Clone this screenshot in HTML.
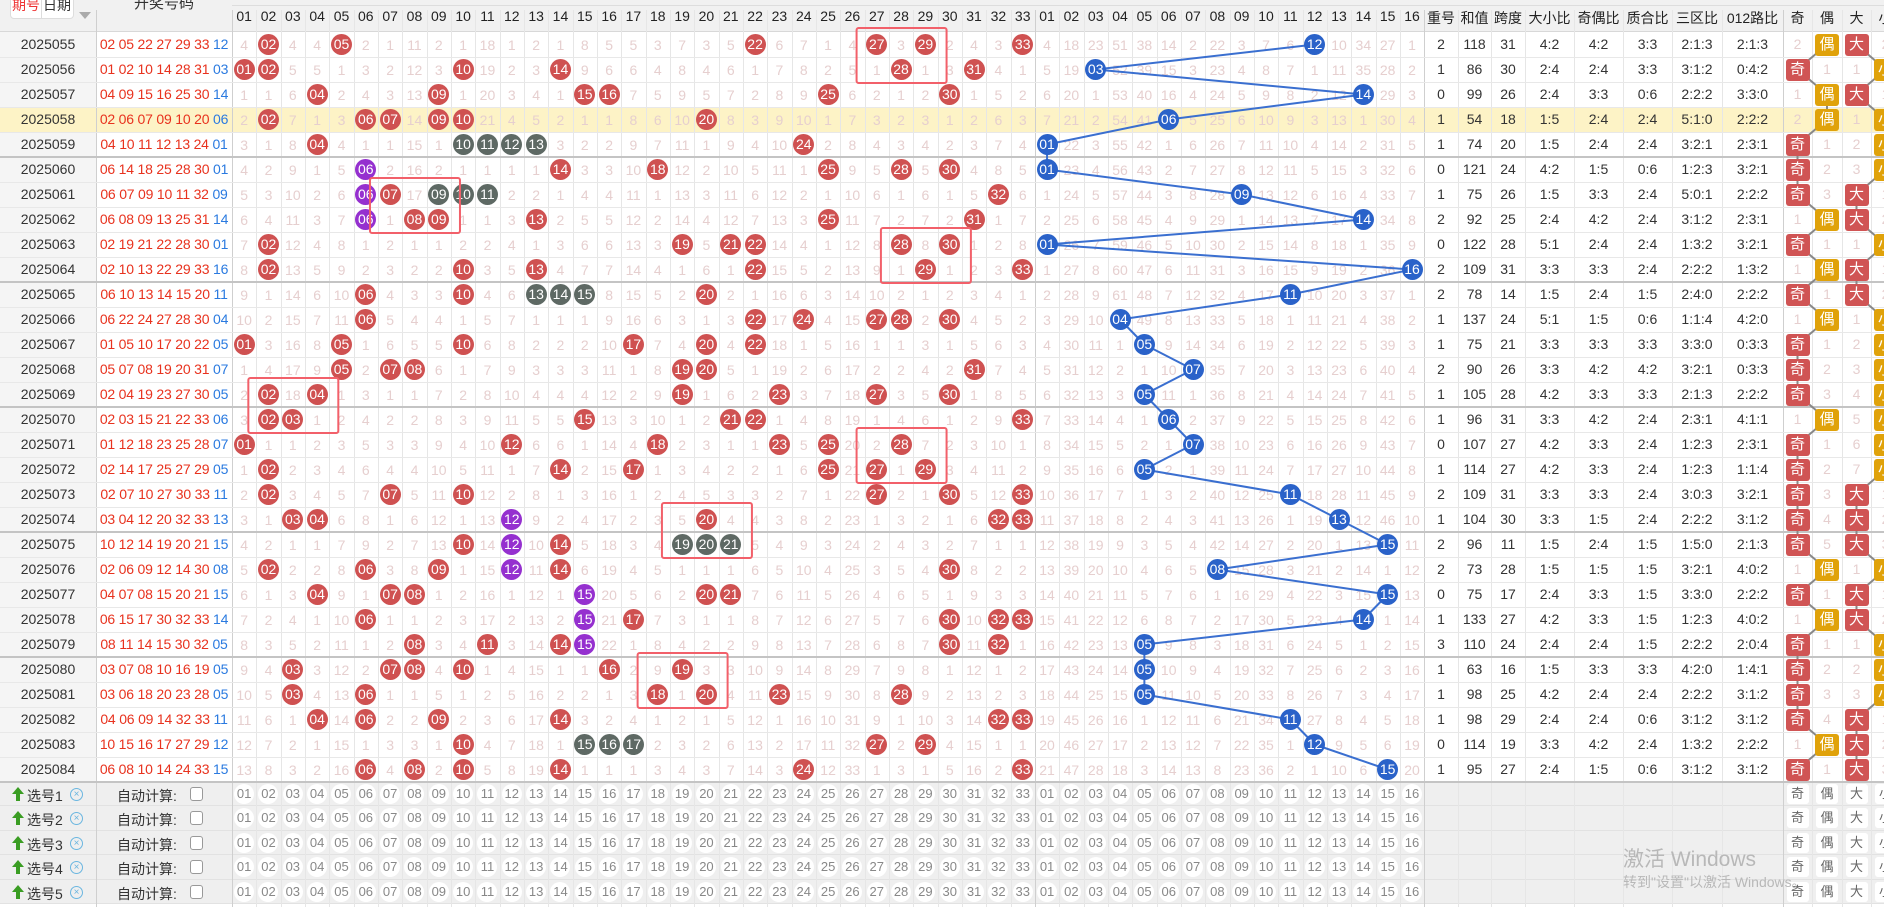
<!DOCTYPE html>
<html><head><meta charset="utf-8">
<style>
html,body{margin:0;padding:0;width:1884px;height:907px;overflow:hidden;background:#fff;font-family:"Liberation Sans","Noto Sans CJK SC",sans-serif;}
#c{position:relative;width:1884px;height:907px;}
.a{position:absolute;box-sizing:border-box;}
.t{position:absolute;text-align:center;white-space:nowrap;}
.ball{position:absolute;width:21px;height:21px;border-radius:50%;color:#fff;font-size:14px;line-height:21px;text-align:center;}
svg{position:absolute;left:0;top:0;}
</style></head><body><div id="c"></div>
<script>
const C=document.getElementById('c');
function el(html){C.insertAdjacentHTML('beforeend',html);}
const RT=32,RH=25,N=30,CW=24.33,X0=232;
const cx=i=>X0+i*CW;
const draws=[
"02 05 22 27 29 33|12","01 02 10 14 28 31|03","04 09 15 16 25 30|14","02 06 07 09 10 20|06","04 10 11 12 13 24|01",
"06 14 18 25 28 30|01","06 07 09 10 11 32|09","06 08 09 13 25 31|14","02 19 21 22 28 30|01","02 10 13 22 29 33|16",
"06 10 13 14 15 20|11","06 22 24 27 28 30|04","01 05 10 17 20 22|05","05 07 08 19 20 31|07","02 04 19 23 27 30|05",
"02 03 15 21 22 33|06","01 12 18 23 25 28|07","02 14 17 25 27 29|05","02 07 10 27 30 33|11","03 04 12 20 32 33|13",
"10 12 14 19 20 21|15","02 06 09 12 14 30|08","04 07 08 15 20 21|15","06 15 17 30 32 33|14","08 11 14 15 30 32|05",
"03 07 08 10 16 19|05","03 06 18 20 23 28|05","04 06 09 14 32 33|11","10 15 16 17 27 29|12","06 08 10 14 24 33|15"];
const stats=[
"2 118 31 4:2 4:2 3:3 2:1:3 2:1:3","1 86 30 2:4 2:4 3:3 3:1:2 0:4:2","0 99 26 2:4 3:3 0:6 2:2:2 3:3:0","1 54 18 1:5 2:4 2:4 5:1:0 2:2:2","1 74 20 1:5 2:4 2:4 3:2:1 2:3:1",
"0 121 24 4:2 1:5 0:6 1:2:3 3:2:1","1 75 26 1:5 3:3 2:4 5:0:1 2:2:2","2 92 25 2:4 4:2 2:4 3:1:2 2:3:1","0 122 28 5:1 2:4 2:4 1:3:2 3:2:1","2 109 31 3:3 3:3 2:4 2:2:2 1:3:2",
"2 78 14 1:5 2:4 1:5 2:4:0 2:2:2","1 137 24 5:1 1:5 0:6 1:1:4 4:2:0","1 75 21 3:3 3:3 3:3 3:3:0 0:3:3","2 90 26 3:3 4:2 4:2 3:2:1 0:3:3","1 105 28 4:2 3:3 3:3 2:1:3 2:2:2",
"1 96 31 3:3 4:2 2:4 2:3:1 4:1:1","0 107 27 4:2 3:3 2:4 1:2:3 2:3:1","1 114 27 4:2 3:3 2:4 1:2:3 1:1:4","2 109 31 3:3 3:3 2:4 3:0:3 3:2:1","1 104 30 3:3 1:5 2:4 2:2:2 3:1:2",
"2 96 11 1:5 2:4 1:5 1:5:0 2:1:3","2 73 28 1:5 1:5 1:5 3:2:1 4:0:2","0 75 17 2:4 3:3 1:5 3:3:0 2:2:2","1 133 27 4:2 3:3 1:5 1:2:3 4:0:2","3 110 24 2:4 2:4 1:5 2:2:2 2:0:4",
"1 63 16 1:5 3:3 3:3 4:2:0 1:4:1","1 98 25 4:2 2:4 2:4 2:2:2 3:1:2","1 98 29 2:4 2:4 0:6 3:1:2 3:1:2","0 114 19 3:3 4:2 2:4 1:3:2 2:2:2","1 95 27 2:4 1:5 0:6 3:1:2 3:1:2"];
const D=draws.map(s=>{const[a,b]=s.split('|');return{r:a.split(' ').map(Number),b:+b};});
const SE=[1424,1458,1491,1525,1574,1623,1672,1722,1783];
const RE=[1783,1812,1842,1871,1900];
let h='';
h+=`<div class="a" style="left:0;top:0;width:1884px;height:${RT}px;background:#f1f1f1;border-bottom:1px solid #d8d8d8"></div>`;
for(let r=0;r<N;r++){const y=RT+r*RH;
 h+=`<div class="a" style="left:0;top:${y}px;width:1884px;height:${RH}px;background:${r==3?'#fdf3c6':'#fff'}"></div>`;
 if(r!=3)h+=`<div class="a" style="left:0;top:${y}px;width:96px;height:${RH}px;background:#f5f5f5"></div>`;}
for(let k=0;k<5;k++){const y=782+k*24.4;
 h+=`<div class="a" style="left:0;top:${y}px;width:1884px;height:24.4px;background:#efefef;border-bottom:1px solid #e2e2e2"></div>`;}
el(h);h='';
const vl=[96,232];for(let i=1;i<=49;i++)vl.push(cx(i));SE.slice(1).forEach(x=>vl.push(x));RE.slice(1,4).forEach(x=>vl.push(x));
vl.forEach(x=>{const w=(x==96||x==232||Math.abs(x-cx(33))<1||Math.abs(x-cx(49))<1||x==1783)?'#cfcfcf':'#e6e6e6';h+=`<div class="a" style="left:${x}px;top:10px;width:1px;height:897px;background:${w}"></div>`;});
h+=`<div class="a" style="left:232px;top:5px;width:1652px;height:1px;background:#ddd"></div>`;
for(let r=1;r<=N;r++){const y=RT+r*RH;const thick=r%5==0;
 h+=`<div class="a" style="left:0;top:${y-(thick?1:0)}px;width:1884px;height:${thick?2:1}px;background:${thick?'#c4c4c4':'#e8e8e8'}"></div>`;}
h+=`<div class="a" style="left:10px;top:-8px;width:64px;height:27px;background:#fff;border:1px solid #ddd;border-radius:4px"></div>`;
h+=`<div class="a" style="left:41px;top:-8px;width:1px;height:27px;background:#ddd"></div>`;
h+=`<div class="t" style="left:12px;top:-5px;width:28px;font-size:14px;color:#e33">期号</div><div class="t" style="left:43px;top:-5px;width:28px;font-size:14px;color:#333">日期</div>`;
h+=`<div class="a" style="left:79px;top:12px;width:0;height:0;border:6px solid transparent;border-top:7px solid #aaa"></div>`;
h+=`<div class="t" style="left:96px;top:-8px;width:136px;font-size:15px;color:#333">开奖号码</div>`;
for(let i=0;i<49;i++){const n=i<33?i+1:i-32;h+=`<div class="t" style="left:${cx(i)}px;top:8px;width:${CW}px;font-size:14px;color:#222">${String(n).padStart(2,'0')}</div>`;}
["重号","和值","跨度","大小比","奇偶比","质合比","三区比","012路比"].forEach((s,i)=>{h+=`<div class="t" style="left:${SE[i]}px;top:8px;width:${SE[i+1]-SE[i]}px;font-size:14px;color:#222">${s}</div>`;});
["奇","偶","大","小"].forEach((s,i)=>{h+=`<div class="t" style="left:${RE[i]}px;top:8px;width:${RE[i+1]-RE[i]}px;font-size:14px;color:#222">${s}</div>`;});
el(h);h='';
const redVals=[],bluVals=[];
let rPrev=[3,0,3,3,0,1,0,10,1,0,17,0,1,0,7,4,4,2,6,2,4,0,5,6,0,3,0,2,0,1,3,2,0];
let bPrev=[3,17,22,50,37,13,1,21,2,6,5,0,9,33,26,0];
for(let r=0;r<N;r++){const rr=[],bb=[];
 for(let i=0;i<33;i++){rr.push(D[r].r.includes(i+1)?0:rPrev[i]+1);}
 for(let i=0;i<16;i++){bb.push(D[r].b==i+1?0:bPrev[i]+1);}
 if(r==0){rr[0]=4;bb[0]=4;}
 redVals.push(rr);bluVals.push(bb);rPrev=rr;bPrev=bb;}
const col=[];
for(let r=0;r<N;r++){col.push([]);for(let i=0;i<33;i++)col[r].push(D[r].r.includes(i+1)?'#cf5151':null);}
for(let r=0;r<N;r++){for(let i=0;i<33;i++){if(!col[r][i])continue;let j=i;while(j<33&&col[r][j])j++;if(j-i>=3)for(let k=i;k<j;k++)col[r][k]='#5e6964';i=j;}}
for(let i=0;i<33;i++){for(let r=0;r<N;r++){if(!D[r].r.includes(i+1))continue;let j=r;while(j<N&&D[j].r.includes(i+1))j++;if(j-r>=3)for(let k=r;k<j;k++)col[k][i]='#9530cf';r=j;}}
let pts=[];
let prevOE=[1,0,0,1],rightPts=[[],[],[],[]];
for(let r=0;r<N;r++){const y=RT+r*RH,cy=y+RH/2;
 h+=`<div class="t" style="left:0;top:${y+4}px;width:96px;font-size:14px;color:#333">20250${55+r}</div>`;
 h+=`<div class="t" style="left:96px;top:${y+4}px;width:136px;font-size:14px;color:#e8321e;letter-spacing:-0.2px">${D[r].r.map(n=>String(n).padStart(2,'0')).join(' ')} <span style="color:#2a7ae0">${String(D[r].b).padStart(2,'0')}</span></div>`;
 for(let i=0;i<33;i++){const x=cx(i);
  if(col[r][i])h+=`<div class="ball" style="left:${x+CW/2-10.5}px;top:${cy-10.5}px;background:${col[r][i]}">${String(i+1).padStart(2,'0')}</div>`;
  else h+=`<div class="t" style="left:${x}px;top:${y+5}px;width:${CW}px;font-size:14px;color:#e6cfcf">${redVals[r][i]}</div>`;}
 for(let i=0;i<16;i++){const x=cx(33+i);
  if(D[r].b==i+1){pts.push([x+CW/2,cy]);}
  else h+=`<div class="t" style="left:${x}px;top:${y+5}px;width:${CW}px;font-size:14px;color:#e6cfcf">${bluVals[r][i]}</div>`;}
 stats[r].split(' ').forEach((s,i)=>{h+=`<div class="t" style="left:${SE[i]}px;top:${y+4}px;width:${SE[i+1]-SE[i]}px;font-size:14px;color:#333">${s}</div>`;});
 const b=D[r].b,odd=b%2==1,big=b>=9;
 const hit=[odd,!odd,big,!big];
 for(let k=0;k<4;k++){const x=RE[k],w=RE[k+1]-RE[k];
  if(hit[k]){prevOE[k]=0;rightPts[k].push([x+w/2,cy]);
   const lab=["奇","偶","大","小"][k],bg=(k==0||k==2)?'#d05454':'#e0a20a';
   h+=`<div class="t" style="left:${x+w/2-12}px;top:${cy-11}px;width:24px;height:22px;line-height:22px;border-radius:3px;background:${bg};color:#fff;font-size:15px;z-index:3">${lab}</div>`;}
  else{prevOE[k]++;h+=`<div class="t" style="left:${x}px;top:${y+4}px;width:${w}px;font-size:14px;color:#e6cfcf">${prevOE[k]}</div>`;}}
}
for(let k=0;k<5;k++){const y=782+k*24.4;
 h+=`<div class="a" style="left:12px;top:${y+5}px;width:0;height:0;border-left:6px solid transparent;border-right:6px solid transparent;border-bottom:7px solid #3a9d23"></div><div class="a" style="left:16px;top:${y+11}px;width:4px;height:8px;background:#3a9d23"></div>`;
 h+=`<div class="t" style="left:27px;top:${y+4}px;font-size:14px;color:#333">选号${k+1}</div>`;
 h+=`<div class="a" style="left:70px;top:${y+6}px;width:13px;height:13px;border:1px solid #6bb6e0;border-radius:50%;color:#6bb6e0;font-size:10px;line-height:11px;text-align:center">×</div>`;
 h+=`<div class="t" style="left:117px;top:${y+4}px;font-size:14px;color:#333">自动计算:</div>`;
 h+=`<div class="a" style="left:190px;top:${y+5}px;width:13px;height:14px;border:1px solid #999;border-radius:3px;background:#fff"></div>`;
 for(let i=0;i<49;i++){const n=i<33?i+1:i-32;const x=cx(i);
  h+=`<div class="t" style="left:${x+CW/2-10}px;top:${y+2}px;width:20px;height:20px;border-radius:50%;background:#fff;line-height:20px;font-size:13px;color:#888">${String(n).padStart(2,'0')}</div>`;}
 ["奇","偶","大","小"].forEach((s,i)=>{const x=RE[i],w=RE[i+1]-RE[i];h+=`<div class="t" style="left:${x+w/2-11}px;top:${y+2}px;width:22px;height:20px;line-height:20px;border-radius:3px;background:#fff;font-size:13px;color:#666">${s}</div>`;});
}
let s=`<svg width="1884" height="907" style="z-index:2">`;
for(let i=1;i<pts.length;i++)s+=`<line x1="${pts[i-1][0]}" y1="${pts[i-1][1]}" x2="${pts[i][0]}" y2="${pts[i][1]}" stroke="#3a6fd0" stroke-width="2"/>`;
for(const pair of [[0,1],[2,3]]){const seq=[];for(let r=0;r<N;r++){for(const k of pair){const f=rightPts[k].find(q=>Math.abs(q[1]-(RT+r*RH+RH/2))<1);if(f)seq.push(f);}}
 for(let i=1;i<seq.length;i++)s+=`<line x1="${seq[i-1][0]}" y1="${seq[i-1][1]}" x2="${seq[i][0]}" y2="${seq[i][1]}" stroke="#888" stroke-width="2"/>`;}
[[0,26,28],[6,6,8],[8,27,29],[14,1,3],[16,26,28],[19,18,20],[25,17,19]].forEach(([r,a,b])=>{
 const x1=cx(a)-8,x2=cx(b+1)+9,y1=RT+r*RH-4,y2=RT+(r+2)*RH+1;
 s+=`<rect x="${x1}" y="${y1}" width="${x2-x1}" height="${y2-y1}" rx="2" fill="none" stroke="#f2606a" stroke-width="2"/>`;});
s+=`</svg>`;
el(h);el(s);h='';
pts.forEach((p,i)=>{h+=`<div class="ball" style="left:${p[0]-10.5}px;top:${p[1]-10.5}px;background:#2a62c9;z-index:4">${String(D[i].b).padStart(2,'0')}</div>`;});
h+=`<div class="t" style="left:1623px;top:843px;font-size:21px;color:#b8b8b8;text-align:left">激活 Windows</div>`;
h+=`<div class="t" style="left:1623px;top:872px;font-size:14px;color:#b8b8b8;text-align:left">转到"设置"以激活 Windows。</div>`;
el(h);
</script></body></html>
